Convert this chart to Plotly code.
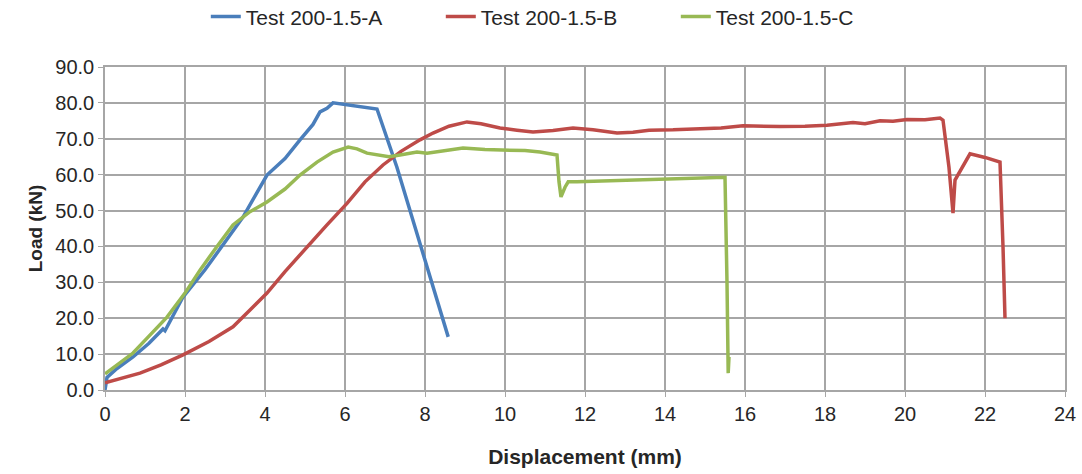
import plotly.graph_objects as go

# Test 200-1.5-A
a_x = [0.0, 0.05, 0.3, 0.7, 1.1, 1.45, 1.5, 1.55, 1.95, 2.5, 3.05, 3.45, 4.05, 4.5, 4.875, 5.2, 5.375, 5.55, 5.7, 6.2, 6.8, 7.3, 7.9, 8.58]
a_y = [0.0, 3.5, 6.0, 9.2, 13.0, 17.0, 16.5, 17.6, 25.9, 33.5, 41.8, 48.2, 59.9, 64.5, 69.7, 74.0, 77.5, 78.5, 80.0, 79.2, 78.3, 62.0, 40.0, 14.8]

# Test 200-1.5-B
b_x = [0.0, 0.4, 0.875, 1.4, 1.95, 2.6, 3.2, 3.6, 4.05, 4.5, 5.05, 5.55, 6.05, 6.5, 6.95, 7.4, 7.875, 8.2, 8.6, 9.05, 9.4, 9.875, 10.3, 10.7, 11.2, 11.7, 12.2, 12.8, 13.2, 13.6, 14.2, 14.875, 15.4, 15.95, 16.4, 16.875, 17.5, 18.05, 18.7, 19.0, 19.375, 19.7, 20.05, 20.5, 20.875, 20.95, 21.1, 21.2, 21.25, 21.425, 21.625, 22.0, 22.375, 22.45, 22.5]
b_y = [2.0, 3.2, 4.7, 7.0, 9.8, 13.5, 17.6, 22.0, 27.0, 33.0, 40.0, 46.0, 52.0, 58.0, 62.7, 66.5, 69.7, 71.6, 73.5, 74.7, 74.2, 73.0, 72.4, 71.9, 72.3, 73.0, 72.5, 71.6, 71.8, 72.4, 72.5, 72.7, 73.0, 73.6, 73.5, 73.4, 73.5, 73.8, 74.5, 74.2, 75.0, 74.9, 75.4, 75.3, 75.8, 75.2, 62.0, 49.3, 58.5, 62.0, 65.8, 64.8, 63.5, 40.0, 20.0]

# Test 200-1.5-C
c_x = [0.0, 0.3, 0.7, 1.1, 1.55, 2.0, 2.375, 2.8, 3.2, 3.6, 4.05, 4.5, 4.875, 5.3, 5.7, 6.08, 6.3, 6.55, 7.1, 7.375, 7.8, 8.05, 8.6, 8.95, 9.5, 10.05, 10.5, 10.875, 11.3, 11.35, 11.4, 11.5, 11.58, 11.8, 13.0, 14.5, 15.5, 15.55, 15.58, 15.6]
c_y = [4.5, 7.0, 10.3, 15.0, 20.3, 27.0, 33.4, 40.0, 46.0, 49.5, 52.4, 56.0, 59.9, 63.5, 66.3, 67.7, 67.2, 66.0, 65.0, 65.5, 66.3, 66.0, 66.9, 67.4, 67.0, 66.9, 66.7, 66.3, 65.5, 58.0, 53.8, 56.5, 58.0, 58.0, 58.5, 59.0, 59.3, 30.0, 4.7, 9.2]

names = ["Test 200-1.5-A", "Test 200-1.5-B", "Test 200-1.5-C"]
colors = ["#4a7ebb", "#be4b48", "#98b954"]

x_ticks = list(range(0, 25, 2))
y_ticks = list(range(0, 91, 10))

fig = go.Figure()
for xs, ys, n, c in zip([a_x, b_x, c_x], [a_y, b_y, c_y], names, colors):
    fig.add_trace(go.Scatter(x=xs, y=ys, mode="lines", name=n,
                             line=dict(color=c, width=3.5)))

font_family = "Liberation Sans, Arial, sans-serif"

fig.update_layout(
    width=1082, height=474,
    margin=dict(l=105, r=17, t=67, b=84, autoexpand=False),
    paper_bgcolor="white", plot_bgcolor="white",
    font=dict(family=font_family, size=20, color="#262626"),
    legend=dict(orientation="h", x=0.105, xanchor="left", y=1.155, yanchor="middle",
                font=dict(size=21), itemwidth=30, tracegroupgap=0,
                entrywidth=190, entrywidthmode="pixels"),
    showlegend=True,
)
fig.update_xaxes(range=[0, 24], tickvals=x_ticks, ticktext=[str(v) for v in x_ticks],
                 showgrid=True, gridcolor="#a6a6a6", gridwidth=1.5,
                 zeroline=False, showline=True, linecolor="#a6a6a6", linewidth=1.5,
                 mirror=True, ticks="outside", ticklen=5, tickcolor="#a6a6a6",
                 tickfont=dict(size=20),
                 title=dict(text="<b>Displacement (mm)</b>", font=dict(size=21), standoff=26))
fig.update_yaxes(range=[0, 90], tickvals=y_ticks, ticktext=[f"{v:.1f}" for v in y_ticks],
                 showgrid=True, gridcolor="#a6a6a6", gridwidth=1.5,
                 zeroline=False, showline=True, linecolor="#a6a6a6", linewidth=1.5,
                 mirror=True, ticks="outside", ticklen=5, tickcolor="#a6a6a6",
                 tickfont=dict(size=20),
                 title=dict(text="<b>Load (kN)</b>", font=dict(size=19), standoff=8))

fig.write_html("out.html")
